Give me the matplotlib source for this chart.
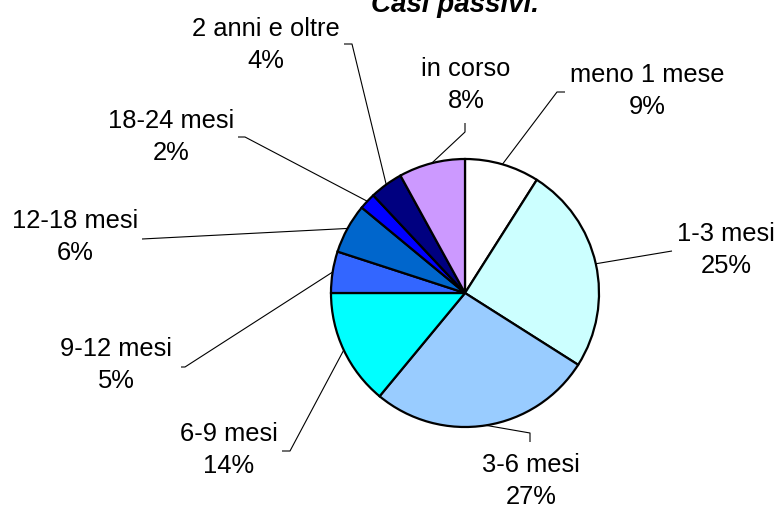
import numpy as np
import matplotlib
matplotlib.use('Agg')
import matplotlib.pyplot as plt

plt.rcParams['font.family'] = ['Liberation Sans', 'DejaVu Sans']

categorie = ['meno 1 mese', '1-3 mesi', '3-6 mesi', '6-9 mesi', '9-12 mesi',
             '12-18 mesi', '18-24 mesi', '2 anni e oltre', 'in corso']
percentuali = [9, 25, 27, 14, 5, 6, 2, 4, 8]
colori = ['#FFFFFF', '#CCFFFF', '#99CCFF', '#00FFFF', '#3366FF',
          '#0066CC', '#0000FF', '#000080', '#CC99FF']

W, H = 781, 508
# posizioni delle etichette (pixel, dall'alto) e punti delle linee guida
pos_testo = [(647, 91), (726, 250), (531, 481), (229, 450), (116, 365),
             (75, 237), (171, 137), (266, 45), (466, 85)]
gomiti = [[(557, 92), (565, 92)], [(672, 251)], [(530, 433), (530, 442)],
          [(290, 451), (282, 451)], [(185, 367), (181, 367)], [(142, 239)],
          [(245, 137), (238, 137)], [(352, 44), (344, 44)],
          [(465, 132), (465, 123)]]

fig = plt.figure(figsize=(W / 100, H / 100), dpi=100)
ax = fig.add_axes([0, 0, 1, 1])

centro = (465, H - 293)
raggio = 134
wedges, _ = ax.pie(percentuali, colors=colori, startangle=90, counterclock=False,
                   center=centro, radius=raggio, frame=True,
                   wedgeprops=dict(edgecolor='black', linewidth=1.6))
ax.set_xlim(0, W)
ax.set_ylim(0, H)
ax.set_aspect('equal')
ax.axis('off')

for w, nome, p, (tx, ty), pts in zip(wedges, categorie, percentuali, pos_testo, gomiti):
    ang = np.deg2rad((w.theta1 + w.theta2) / 2)
    x0 = centro[0] + raggio * np.cos(ang)
    y0 = centro[1] + raggio * np.sin(ang)
    xs = [x0] + [q[0] for q in pts]
    ys = [y0] + [H - q[1] for q in pts]
    ax.plot(xs, ys, color='black', linewidth=0.8, solid_capstyle='butt')
    ax.text(tx, H - ty, f"{nome}\n{p}%", ha='center', va='center',
            fontsize=18.4, linespacing=1.4)

# il titolo è tagliato in alto come nell'originale
ax.text(455, H - 12, 'Casi passivi.', ha='center', va='baseline',
        fontsize=20, fontweight='bold', fontstyle='italic')

fig.savefig('out.png', dpi=100)
